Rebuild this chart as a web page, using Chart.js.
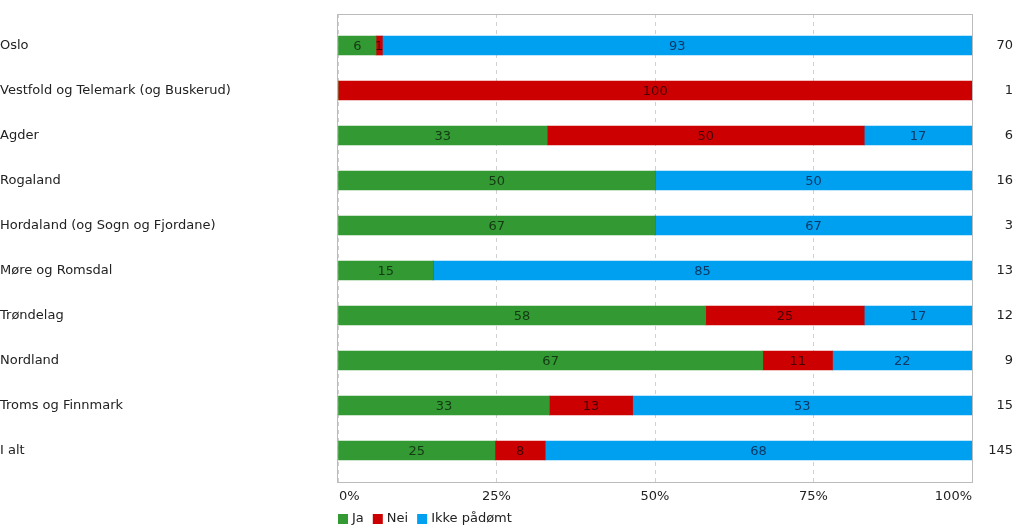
<!DOCTYPE html>
<html>
<head>
<meta charset="utf-8">
<script src="https://cdn.jsdelivr.net/npm/chart.js@4"></script>
<style>
  html, body { margin: 0; padding: 0; background: #fff; }
  #wrap { width: 1023px; height: 531px; position: relative; }
</style>
</head>
<body>
<div id="wrap"><canvas id="c"></canvas></div>
<script>
const categories = ["Oslo", "Vestfold og Telemark (og Buskerud)", "Agder", "Rogaland",
  "Hordaland (og Sogn og Fjordane)", "Møre og Romsdal", "Trøndelag", "Nordland",
  "Troms og Finnmark", "I alt"];
const counts = [70, 1, 6, 16, 3, 13, 12, 9, 15, 145];
const ja    = [6, 0, 33, 50, 67, 15, 58, 67, 33, 25];
const nei   = [1, 100, 50, 0, 0, 0, 25, 11, 13, 8];
const ikke  = [93, 0, 17, 50, 67, 85, 17, 22, 53, 68];
const xTickLabels = ["0%", "25%", "50%", "75%", "100%"];

const seriesNames = ["Ja", "Nei", "Ikke pådømt"];
const seriesValues = [ja, nei, ikke];
const barColors = ["#339933", "#cc0000", "#00a0f0"];
const labelColors = ["#143a14", "#450000", "#0a3966"];

const FONT = "'DejaVu Sans', Verdana, sans-serif";
const TEXT = '#222222';

const totals = categories.map((_, i) => ja[i] + nei[i] + ikke[i]);

const datasets = seriesValues.map((vals, s) => ({
  label: seriesNames[s],
  data: vals.map((v, i) => ({ x: v / totals[i] * 100, y: i, raw: v })),
  backgroundColor: barColors[s],
  borderWidth: 0,
  barThickness: 19,
  yAxisID: 'y'
}));

const framePlugin = {
  id: 'frame',
  beforeDatasetsDraw(chart) {
    const { ctx, chartArea: a } = chart;
    ctx.save();
    ctx.strokeStyle = '#bbbbbb';
    ctx.lineWidth = 1;
    ctx.setLineDash([]);
    ctx.strokeRect(Math.round(a.left) - 0.5, Math.round(a.top) + 0.5,
      Math.round(a.right - a.left) + 1, Math.round(a.bottom - a.top));
    ctx.restore();
  }
};

const barLabelPlugin = {
  id: 'barLabels',
  afterDatasetsDraw(chart) {
    const { ctx } = chart;
    ctx.save();
    ctx.font = "13px " + FONT;
    ctx.textAlign = 'center';
    ctx.textBaseline = 'middle';
    chart.data.datasets.forEach((ds, s) => {
      const meta = chart.getDatasetMeta(s);
      meta.data.forEach((el, i) => {
        const v = ds.data[i].raw;
        if (!v) return;
        ctx.fillStyle = labelColors[s];
        ctx.fillText(String(v), (el.x + el.base) / 2, el.y + 1);
      });
    });
    ctx.restore();
  }
};

const xLabelPlugin = {
  id: 'xLabels',
  afterDraw(chart) {
    const { ctx, chartArea: a } = chart;
    const xs = chart.scales.x;
    ctx.save();
    ctx.font = "13px " + FONT;
    ctx.fillStyle = TEXT;
    ctx.textBaseline = 'middle';
    xTickLabels.forEach((t, k) => {
      const px = xs.getPixelForValue(k * 25);
      ctx.textAlign = k === 0 ? 'left' : (k === xTickLabels.length - 1 ? 'right' : 'center');
      ctx.fillText(t, k === 0 ? px + 1 : px, a.bottom + 15);
    });
    ctx.restore();
  }
};

const legendPlugin = {
  id: 'customLegend',
  afterDraw(chart) {
    const { ctx, chartArea: a } = chart;
    ctx.save();
    ctx.font = "13px " + FONT;
    ctx.textBaseline = 'middle';
    ctx.textAlign = 'left';
    let x = a.left;
    const cy = a.bottom + 37;
    seriesNames.forEach((name, s) => {
      ctx.fillStyle = barColors[s];
      ctx.fillRect(x, cy - 5, 10, 10);
      ctx.fillStyle = TEXT;
      ctx.fillText(name, x + 14, cy);
      x += 14 + ctx.measureText(name).width + 9;
    });
    ctx.restore();
  }
};

new Chart(document.getElementById('c'), {
  type: 'bar',
  data: { datasets },
  plugins: [framePlugin, barLabelPlugin, xLabelPlugin, legendPlugin],
  options: {
    indexAxis: 'y',
    responsive: true,
    maintainAspectRatio: false,
    animation: false,
    layout: { padding: { top: 14, right: 10, left: 0, bottom: 0 } },
    scales: {
      x: {
        type: 'linear',
        stacked: true,
        min: 0, max: 100,
        ticks: { display: false, stepSize: 25 },
        grid: { color: '#d0d0d0', drawTicks: false, lineWidth: 1 },
        border: { display: false, dash: [4, 4] },
        afterFit(scale) { scale.height = 49; }
      },
      y: {
        type: 'linear',
        position: 'left',
        stacked: true,
        reverse: true,
        offset: false,
        min: -0.7, max: 9.7,
        afterBuildTicks(scale) { scale.ticks = categories.map((_, i) => ({ value: i })); },
        ticks: {
          crossAlign: 'far',
          color: TEXT,
          font: { family: FONT, size: 13 },
          callback: (v) => categories[v]
        },
        grid: { display: false, offset: false },
        border: { display: false },
        afterFit(scale) { scale.width = 338; }
      },
      y2: {
        type: 'linear',
        position: 'right',
        reverse: true,
        offset: false,
        min: -0.7, max: 9.7,
        afterBuildTicks(scale) { scale.ticks = counts.map((_, i) => ({ value: i })); },
        ticks: {
          crossAlign: 'far',
          color: TEXT,
          font: { family: FONT, size: 13 },
          callback: (v) => String(counts[v])
        },
        grid: { display: false, offset: false },
        border: { display: false },
        afterFit(scale) { scale.width = 41; }
      }
    },
    plugins: {
      legend: { display: false },
      tooltip: { enabled: false }
    }
  }
});
</script>
</body>
</html>
